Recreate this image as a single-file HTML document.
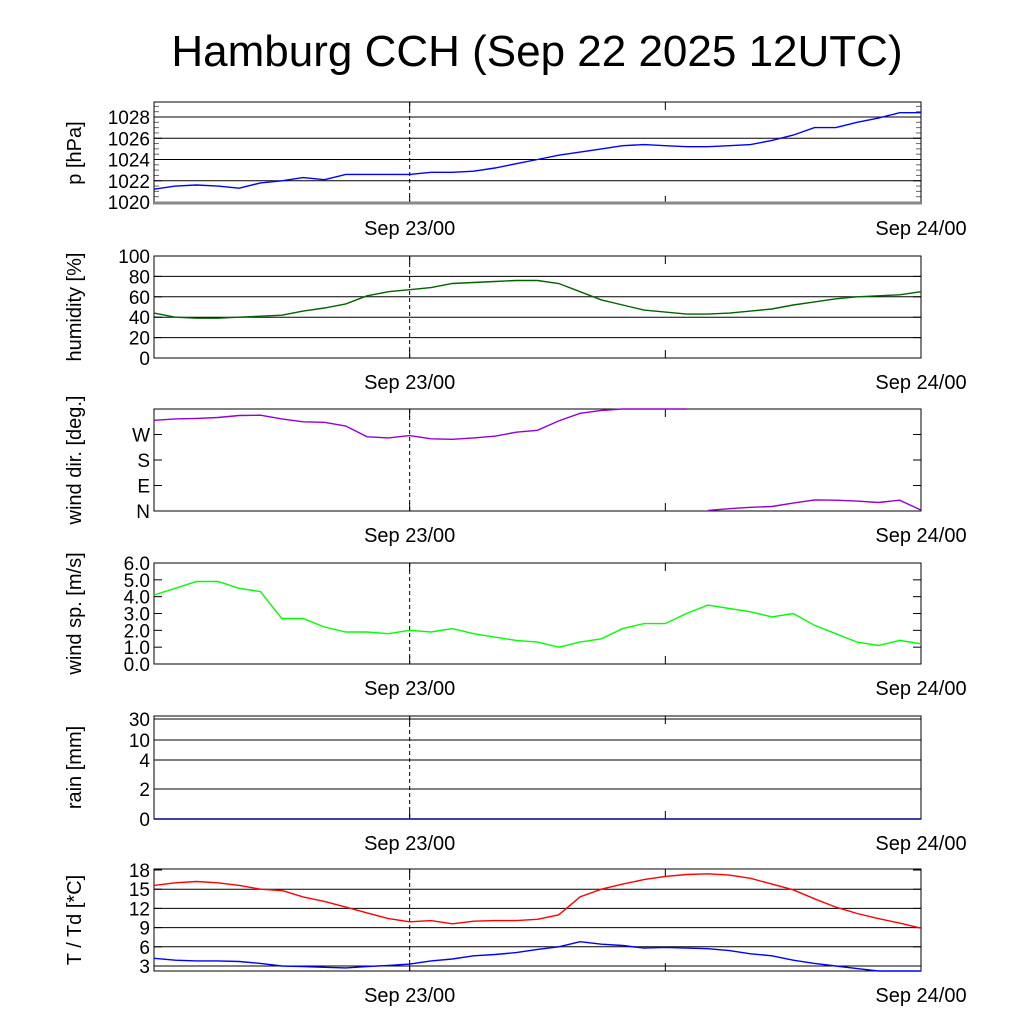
<!DOCTYPE html>
<html><head><meta charset="utf-8"><style>
body{margin:0;background:#fff}
svg{display:block;font-family:"Liberation Sans",sans-serif}
</style></head><body>
<svg id="chart" width="1024" height="1024" viewBox="0 0 1024 1024" xmlns="http://www.w3.org/2000/svg">
<text x="537" y="66" font-size="44" text-anchor="middle">Hamburg CCH (Sep 22 2025 12UTC)</text>
</svg>
<script>
const hours=[0,1,2,3,4,5,6,7,8,9,10,11,12,13,14,15,16,17,18,19,20,21,22,23,24,25,26,27,28,29,30,31,32,33,34,35,36];
const xTickLabels=["Sep 23/00","Sep 24/00"];
const xTickHours=[12,36];
const pressure=[1021.2,1021.5,1021.6,1021.5,1021.3,1021.8,1022.0,1022.3,1022.1,1022.6,1022.6,1022.6,1022.6,1022.8,1022.8,1022.9,1023.2,1023.6,1024.0,1024.4,1024.7,1025.0,1025.3,1025.4,1025.3,1025.2,1025.2,1025.3,1025.4,1025.8,1026.3,1027.0,1027.0,1027.5,1027.9,1028.4,1028.4];
const humidity=[44,40,39,39,40,41,42,46,49,53,61,65,67,69,73,74,75,76,76,73,65,57,52,47,45,43,43,44,46,48,52,55,58,60,61,62,65];
const windDir=[320,325,327,330,337,338,325,315,313,300,262,258,266,255,253,258,264,278,285,318,345,355,360,360,360,360,2,8,13,16,28,39,38,35,30,38,3];
const windSpeed=[4.1,4.5,4.9,4.9,4.5,4.3,2.7,2.7,2.2,1.9,1.9,1.8,2.0,1.9,2.1,1.8,1.6,1.4,1.3,1.0,1.3,1.5,2.1,2.4,2.4,3.0,3.5,3.3,3.1,2.8,3.0,2.3,1.8,1.3,1.1,1.4,1.2];
const rain=[0,0,0,0,0,0,0,0,0,0,0,0,0,0,0,0,0,0,0,0,0,0,0,0,0,0,0,0,0,0,0,0,0,0,0,0,0];
const temp=[15.6,16.0,16.2,16.0,15.6,15.0,14.8,13.8,13.1,12.2,11.3,10.4,9.9,10.1,9.6,10.0,10.1,10.1,10.3,11.0,13.8,15.0,15.8,16.5,17.0,17.3,17.4,17.2,16.7,15.8,14.9,13.5,12.2,11.2,10.4,9.7,8.9];
const dew=[4.2,3.9,3.8,3.8,3.7,3.4,3.0,2.9,2.8,2.7,2.9,3.1,3.3,3.8,4.1,4.6,4.8,5.1,5.6,6.0,6.8,6.4,6.2,5.8,5.9,5.8,5.7,5.4,4.9,4.6,3.9,3.4,3.0,2.6,2.2,2.1,2.1];
const pTicks=[1020,1022,1024,1026,1028];
const hTicks=[0,20,40,60,80,100];
const dTicks=[0,90,180,270];const dLabels=["N","E","S","W"];
const sTicks=[0,1,2,3,4,5,6];
const rTicks=[0,2,4,10,30];
const tTicks=[3,6,9,12,15,18];

const NS="http://www.w3.org/2000/svg";
const svg=document.getElementById('chart');
const X0=154,X1=921,H0=0,H1=36;
function xs(h){return X0+(h-H0)/(H1-H0)*(X1-X0);}
function el(tag,attrs,parent){const e=document.createElementNS(NS,tag);for(const k in attrs)e.setAttribute(k,attrs[k]);(parent||svg).appendChild(e);return e;}
function lin(d0,d1,r0,r1){return v=>r0+(v-d0)/(d1-d0)*(r1-r0);}

function panel(name,top,bot,ys,ticks,labels,title,grid,minor){
  const g=el('g',{});
  
  
  ticks.forEach((t,i)=>{
    const y=ys(t);
    if(grid && y>top+1 && y<bot-1){const l=el('line',{x1:X0,x2:X1,y1:y,y2:y,stroke:'#000','stroke-width':1},g);
      }
    const tx=el('text',{x:X0-4,y:y+7,'font-size':19,'text-anchor':'end'},g);
    tx.textContent=labels?labels[i]:t;
    
    el('line',{x1:X0,x2:X0+8,y1:y,y2:y,stroke:'#000'},g);
    el('line',{x1:X1-8,x2:X1,y1:y,y2:y,stroke:'#000'},g);
  });
  if(minor){minor.forEach(v=>{const y=ys(v);if(y>=top&&y<=bot){el('line',{x1:X0,x2:X0+5,y1:y,y2:y,stroke:'#666'},g);el('line',{x1:X1-5,x2:X1,y1:y,y2:y,stroke:'#666'},g);}});}
  [0,12,24,36].forEach(h=>{const x=xs(h);el('line',{x1:x,x2:x,y1:bot,y2:bot-8,stroke:'#000'},g);el('line',{x1:x,x2:x,y1:top,y2:top+8,stroke:'#000'},g);});
  const dl=el('line',{x1:xs(12),x2:xs(12),y1:top,y2:bot,stroke:'#000','stroke-dasharray':'4,3'},g);
  
  xTickHours.forEach((h,i)=>{const t=el('text',{x:xs(h),y:bot+31,'font-size':20,'text-anchor':'middle'},g);t.textContent=xTickLabels[i];
    });
  const yt=el('text',{transform:`translate(${81},${(top+bot)/2}) rotate(-90)`,'font-size':20,'text-anchor':'middle'},g);
  yt.textContent=title;
  const fr=el('rect',{x:X0,y:top,width:X1-X0,height:bot-top,fill:'none',stroke:'#000'},g);
  
  return g;
}
function series(g,vals,ys,color,name,breakJump,top,bot){
  let segs=[],cur=[];
  vals.forEach((v,i)=>{if(cur.length&&breakJump&&Math.abs(v-vals[i-1])>breakJump){segs.push(cur);cur=[];}cur.push([xs(hours[i]),ys(v)]);});
  segs.push(cur);
  segs.forEach(s=>{const p=el('polyline',{points:s.map(q=>q[0].toFixed(1)+','+Math.min(bot,Math.max(top,q[1])).toFixed(1)).join(' '),fill:'none',stroke:color,'stroke-width':1.4},g);
    });
}
let ys=lin(1020,1028,202,117);
let g=panel('pressure',102,204,ys,pTicks,null,'p [hPa]',true,[1020.5,1021,1021.5,1022.5,1023,1023.5,1024.5,1025,1025.5,1026.5,1027,1027.5,1028.5,1029,1029.5]);
el('line',{x1:X0,x2:X1,y1:203,y2:203,stroke:'#888','stroke-width':3},g);
series(g,pressure,ys,'#0000ff','pressure-line',0,102,204);
ys=lin(0,100,358,256);
g=panel('humidity',256,358,ys,hTicks,null,'humidity [%]',true);
series(g,humidity,ys,'#006400','humidity-line',0,256,358);
ys=lin(0,360,511,409);
g=panel('wind-direction',409,511,ys,dTicks,dLabels,'wind dir. [deg.]',false);
series(g,windDir,ys,'#9400d3','wind-direction-line',180,409,511);
ys=lin(0,6,664,563);
g=panel('wind-speed',563,664,ys,sTicks,sTicks.map(v=>v.toFixed(1)),'wind sp. [m/s]',false);
series(g,windSpeed,ys,'#00ff00','wind-speed-line',0,563,664);
const rY=[819,789,760,740,719];
ys=function(v){for(let i=0;i<rTicks.length-1;i++){if(v<=rTicks[i+1])return rY[i]+(v-rTicks[i])/(rTicks[i+1]-rTicks[i])*(rY[i+1]-rY[i]);}return rY[rY.length-1];};
g=panel('rain',716,819,ys,rTicks,null,'rain [mm]',true);
series(g,rain,ys,'#00008b','rain-line',0,716,819);
ys=lin(3,18,966,870);
g=panel('temperature',869,971,ys,tTicks,null,'T / Td [*C]',true);
series(g,temp,ys,'#ff0000','temperature-line',0,869,971);
series(g,dew,ys,'#0000ff','dewpoint-line',0,869,971);
</script>
</body></html>
